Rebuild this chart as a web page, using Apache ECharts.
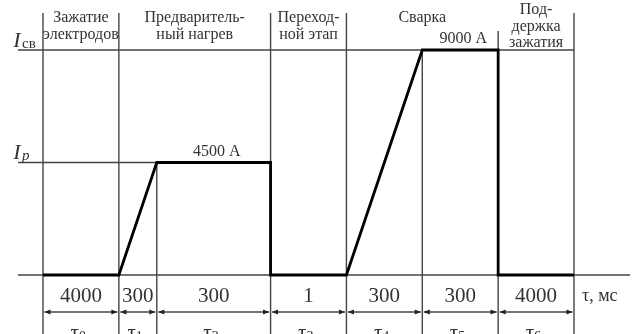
<!DOCTYPE html>
<html>
<head>
<meta charset="utf-8">
<script src="https://cdn.jsdelivr.net/npm/echarts@6/dist/echarts.min.js"></script>
<style>
  html, body { margin: 0; padding: 0; background: #fff; }
  #chart { width: 638px; height: 334px; }
</style>
</head>
<body>
<div id="chart"></div>
<script>
// Stages of the welding cycle (headings) and how many phases each one covers
const stageNames = ['Зажатие\nэлектродов', 'Предваритель-\nный нагрев', 'Переход-\nной этап', 'Сварка', 'Под-\nдержка\nзажатия'];
const stagePhaseCount = [1, 2, 1, 2, 1];

// Phases τ0 … τ6
const phaseIndex = ['0', '1', '2', '3', '4', '5', '6'];
const phaseDuration = ['4000', '300', '300', '1', '300', '300', '4000']; // мс
const phaseSpan = [2, 1, 3, 2, 2, 2, 2]; // schematic width of each phase on the time axis
const currentStart = [0, 0, 4500, 0, 0, 9000, 0];     // А, at the start of each phase
const currentEnd   = [0, 4500, 4500, 0, 9000, 9000, 0]; // А, at the end of each phase

// Current levels marked on the vertical axis
const levelValue = [9000, 4500];
const levelSub = ['св', 'p'];
const levelText = ['9000 А', '4500 А'];
const timeUnit = 'τ, мс';

// Phase boundaries along the schematic time axis
const bounds = [0];
phaseSpan.forEach(s => bounds.push(bounds[bounds.length - 1] + s));
const xEnd = bounds[bounds.length - 1];

// Boundaries that separate stages (indices into bounds)
const stageBounds = [0];
stagePhaseCount.forEach(c => stageBounds.push(stageBounds[stageBounds.length - 1] + c));

// Current waveform: one segment per phase
const waveform = [];
phaseSpan.forEach((_, i) => {
  waveform.push([bounds[i], currentStart[i]]);
  waveform.push([bounds[i + 1], currentEnd[i]]);
});

const SERIF = '"Liberation Serif", "DejaVu Serif", serif';
const INK = '#333';
const THIN = '#444';
const HEADER_TOP = 13;
const BOTTOM = 334;
const AXIS_LEFT = 18;
const AXIS_RIGHT = 630;

const chart = echarts.init(document.getElementById('chart'), null, { renderer: 'canvas' });

const thin = (x1, y1, x2, y2) => ({
  type: 'line',
  shape: { x1, y1, x2, y2 },
  style: { stroke: THIN, lineWidth: 1.4 }
});

chart.setOption({
  animation: false,
  backgroundColor: '#fff',
  grid: { left: 43, right: 64, top: 50, bottom: 59 },
  xAxis: { type: 'value', min: 0, max: xEnd, show: false },
  yAxis: { type: 'value', min: 0, max: 9000, show: false },
  series: [
    // Horizontal level lines, their symbols and current labels
    {
      type: 'custom',
      coordinateSystem: 'cartesian2d',
      silent: true,
      z: 1,
      data: levelValue.map((v, k) => [0, v, k]),
      renderItem(params, api) {
        const k = api.value(2);
        const v = levelValue[k];
        const y = api.coord([0, v])[1];
        // Welding level runs over the whole cycle, preheat level up to the end of preheating
        const endBound = k === 0 ? xEnd : bounds[stageBounds[2]];
        const xe = api.coord([endBound, v])[0];
        // Label sits over the phase in which the level is held
        const hold = currentStart.findIndex((c, i) => c === v && currentEnd[i] === v);
        const cx = (api.coord([bounds[hold], v])[0] + api.coord([bounds[hold + 1], v])[0]) / 2;
        const italicSub = levelSub[k] === 'p';
        return {
          type: 'group',
          children: [
            thin(AXIS_LEFT, y, xe, y),
            {
              type: 'text',
              style: { text: 'I', x: 17, y: y - 9, align: 'center', verticalAlign: 'middle',
                       font: 'italic 22px ' + SERIF, fill: INK }
            },
            {
              type: 'text',
              style: { text: levelSub[k], x: 22, y: y - 6, align: 'left', verticalAlign: 'middle',
                       font: (italicSub ? 'italic ' : '') + '15px ' + SERIF, fill: INK }
            },
            {
              type: 'text',
              style: { text: levelText[k], x: cx + 3, y: y - 11, align: 'center', verticalAlign: 'middle',
                       font: '16px ' + SERIF, fill: INK }
            }
          ]
        };
      }
    },
    // Time axis baseline and unit
    {
      type: 'custom',
      coordinateSystem: 'cartesian2d',
      silent: true,
      z: 1,
      data: [[0, 0]],
      renderItem(params, api) {
        const y = api.coord([0, 0])[1];
        return {
          type: 'group',
          children: [
            thin(AXIS_LEFT, y, AXIS_RIGHT, y),
            {
              type: 'text',
              style: { text: timeUnit, x: api.coord([xEnd, 0])[0] + 8, y: y + 21, align: 'left',
                       verticalAlign: 'middle', font: '18px ' + SERIF, fill: INK }
            }
          ]
        };
      }
    },
    // Vertical boundary lines
    {
      type: 'custom',
      coordinateSystem: 'cartesian2d',
      silent: true,
      z: 1,
      data: bounds.map((b, k) => [b, 0, k]),
      renderItem(params, api) {
        const k = api.value(2);
        const x = api.coord([bounds[k], 0])[0];
        let top;
        const s = stageBounds.indexOf(k);
        if (s >= 0) {
          // stage dividers reach the heading row; the one before a three-line heading stops lower
          const next = stageNames[s];
          top = next && next.split('\n').length > 2 ? 31 : HEADER_TOP;
        } else {
          top = api.coord([bounds[k], currentEnd[k - 1]])[1];
        }
        return thin(x, top, x, BOTTOM);
      }
    },
    // Stage headings
    {
      type: 'custom',
      coordinateSystem: 'cartesian2d',
      silent: true,
      z: 2,
      data: stageNames.map((n, s) => [0, 0, s]),
      renderItem(params, api) {
        const s = api.value(2);
        const x0 = api.coord([bounds[stageBounds[s]], 0])[0];
        const x1 = api.coord([bounds[stageBounds[s + 1]], 0])[0];
        const lines = stageNames[s].split('\n').length;
        return {
          type: 'text',
          style: {
            text: stageNames[s], x: (x0 + x1) / 2, y: lines > 2 ? 2 : 10,
            align: 'center', verticalAlign: 'top', lineHeight: 16.5,
            font: '16px ' + SERIF, fill: INK
          }
        };
      }
    },
    // Phase durations, dimension arrows and phase names
    {
      type: 'custom',
      coordinateSystem: 'cartesian2d',
      silent: true,
      z: 2,
      data: phaseSpan.map((_, i) => [0, 0, i]),
      renderItem(params, api) {
        const i = api.value(2);
        const base = api.coord([0, 0])[1];
        const x0 = api.coord([bounds[i], 0])[0] + 1.5;
        const x1 = api.coord([bounds[i + 1], 0])[0] - 1.5;
        const cx = (x0 + x1) / 2;
        const dy = base + 37;
        const head = (tip, dir) => ({
          type: 'polygon',
          shape: { points: [[tip, dy], [tip + dir * 6, dy - 2.5], [tip + dir * 6, dy + 2.5]] },
          style: { fill: '#222' }
        });
        return {
          type: 'group',
          children: [
            thin(x0, dy, x1, dy),
            head(x0, 1),
            head(x1, -1),
            {
              type: 'text',
              style: { text: phaseDuration[i], x: cx, y: base + 21, align: 'center', verticalAlign: 'middle',
                       font: '21px ' + SERIF, fill: INK }
            },
            {
              type: 'text',
              style: { text: 'τ', x: cx - 2, y: base + 48, align: 'right', verticalAlign: 'top',
                       font: '21px ' + SERIF, fill: INK }
            },
            {
              type: 'text',
              style: { text: phaseIndex[i], x: cx - 2, y: base + 55, align: 'left', verticalAlign: 'top',
                       font: '14px ' + SERIF, fill: INK }
            }
          ]
        };
      }
    },
    // Welding current waveform
    {
      type: 'line',
      data: waveform,
      symbol: 'none',
      silent: true,
      z: 5,
      clip: false,
      lineStyle: { color: '#000', width: 2.8, join: 'miter' }
    }
  ]
});
</script>
</body>
</html>
